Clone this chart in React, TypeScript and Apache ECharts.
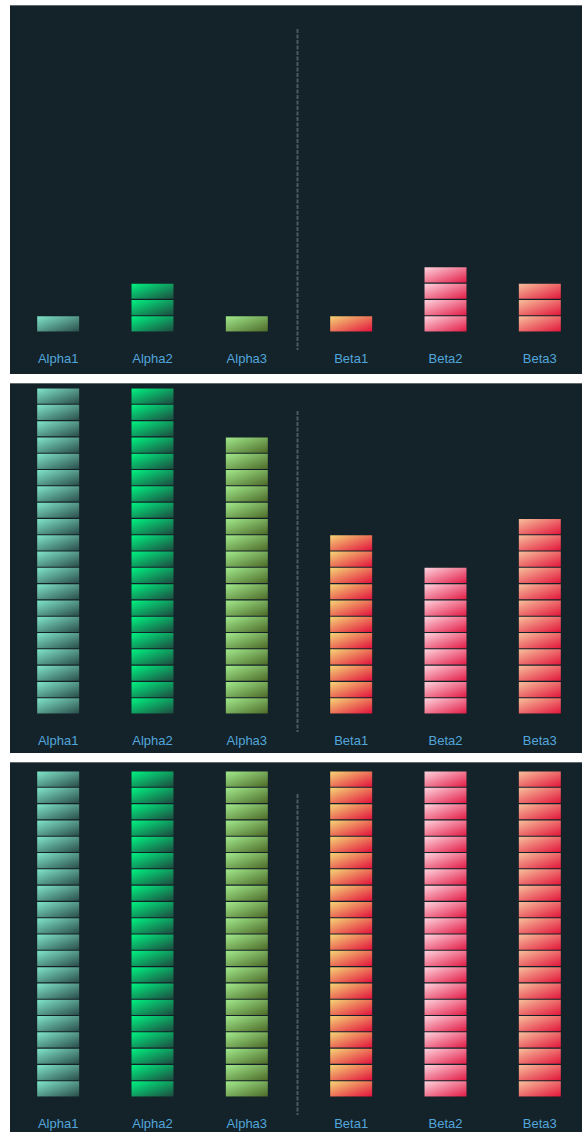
import React, { useEffect, useRef } from 'react';
import * as echarts from 'echarts';

const alphaCategories = ['Alpha1', 'Alpha2', 'Alpha3'];
const betaCategories = ['Beta1', 'Beta2', 'Beta3'];

// segment counts per bar, per panel
const panel1Alpha = [1, 3, 1];
const panel1Beta = [1, 4, 3];
const panel2Alpha = [20, 20, 17];
const panel2Beta = [11, 9, 12];
const panel3Alpha = [20, 20, 20];
const panel3Beta = [20, 20, 20];

const axisMax = 20;

const alphaColors = [
  ['#80e6ca', '#2a4d4b'],
  ['#00f381', '#1d4b40'],
  ['#a2ea8c', '#4d6a28'],
];
const betaColors = [
  ['#f6d676', '#e2123c'],
  ['#fed3de', '#e21c46'],
  ['#f7c09c', '#e2163b'],
];

const panels = [
  { top: 6, height: 368, base: 326, alpha: panel1Alpha, beta: panel1Beta },
  { top: 384, height: 369, base: 330, alpha: panel2Alpha, beta: panel2Beta },
  { top: 763, height: 369, base: 334, alpha: panel3Alpha, beta: panel3Beta },
];

const grad = (c: string[]) =>
  new echarts.graphic.LinearGradient(0, 0, 1, 1, [
    { offset: 0, color: c[0] },
    { offset: 1, color: c[1] },
  ]);

function buildOption(p: typeof panels[number]) {
  const plotH = 326;
  const gridTop = p.base - plotH;
  const xAxisCommon = {
    type: 'category' as const,
    axisLine: { show: false },
    axisTick: { show: false },
    splitLine: { show: false },
    axisLabel: {
      color: '#52a6dc',
      fontSize: 13,
      margin: 20,
      fontFamily: '"Liberation Sans", Arial, sans-serif',
    },
  };
  const seriesCommon = {
    type: 'pictorialBar' as const,
    symbol: 'rect',
    symbolRepeat: true,
    symbolSize: [42, 15],
    symbolMargin: '0.65!',
    itemStyle: { borderColor: 'rgba(10,25,30,0.45)', borderWidth: 1 },
  };
  return {
    animation: false,
    backgroundColor: '#142329',
    grid: [
      { left: 1, width: 283, top: gridTop, height: plotH },
      { left: 294, width: 283, top: gridTop, height: plotH },
    ],
    xAxis: [
      { ...xAxisCommon, gridIndex: 0, data: alphaCategories },
      { ...xAxisCommon, gridIndex: 1, data: betaCategories },
    ],
    yAxis: [
      { type: 'value', gridIndex: 0, min: 0, max: axisMax, show: false },
      { type: 'value', gridIndex: 1, min: 0, max: axisMax, show: false },
    ],
    series: [
      {
        ...seriesCommon,
        xAxisIndex: 0,
        yAxisIndex: 0,
        data: p.alpha.map((v, i) => ({ value: v, itemStyle: { color: grad(alphaColors[i]) } })),
      },
      {
        ...seriesCommon,
        xAxisIndex: 1,
        yAxisIndex: 1,
        data: p.beta.map((v, i) => ({ value: v, itemStyle: { color: grad(betaColors[i]) } })),
      },
    ],
    graphic: [
      {
        type: 'line',
        shape: { x1: 287.5, y1: p.base - 303, x2: 287.5, y2: p.base + 18 },
        style: { stroke: '#4b5a63', lineWidth: 2, lineDash: [4, 1.5] },
        silent: true,
      },
    ],
  };
}

function Panel({ p }: { p: typeof panels[number] }) {
  const ref = useRef<HTMLDivElement>(null);
  useEffect(() => {
    if (!ref.current) return;
    const chart = echarts.init(ref.current, null, { renderer: 'svg' });
    chart.setOption(buildOption(p) as any);
    return () => chart.dispose();
  }, [p]);
  return (
    <div
      style={{
        position: 'absolute',
        left: 10,
        top: p.top - 1,
        width: 590,
        borderTop: '1px solid #626a6e',
        background: '#142329',
      }}
    >
      <div ref={ref} style={{ width: 590, height: p.height }} />
    </div>
  );
}

export default function App() {
  return (
    <div
      style={{
        position: 'absolute',
        left: 0,
        top: 0,
        width: 582,
        height: 1132,
        overflow: 'hidden',
      }}
    >
      {panels.map((p, i) => (
        <Panel key={i} p={p} />
      ))}
    </div>
  );
}
